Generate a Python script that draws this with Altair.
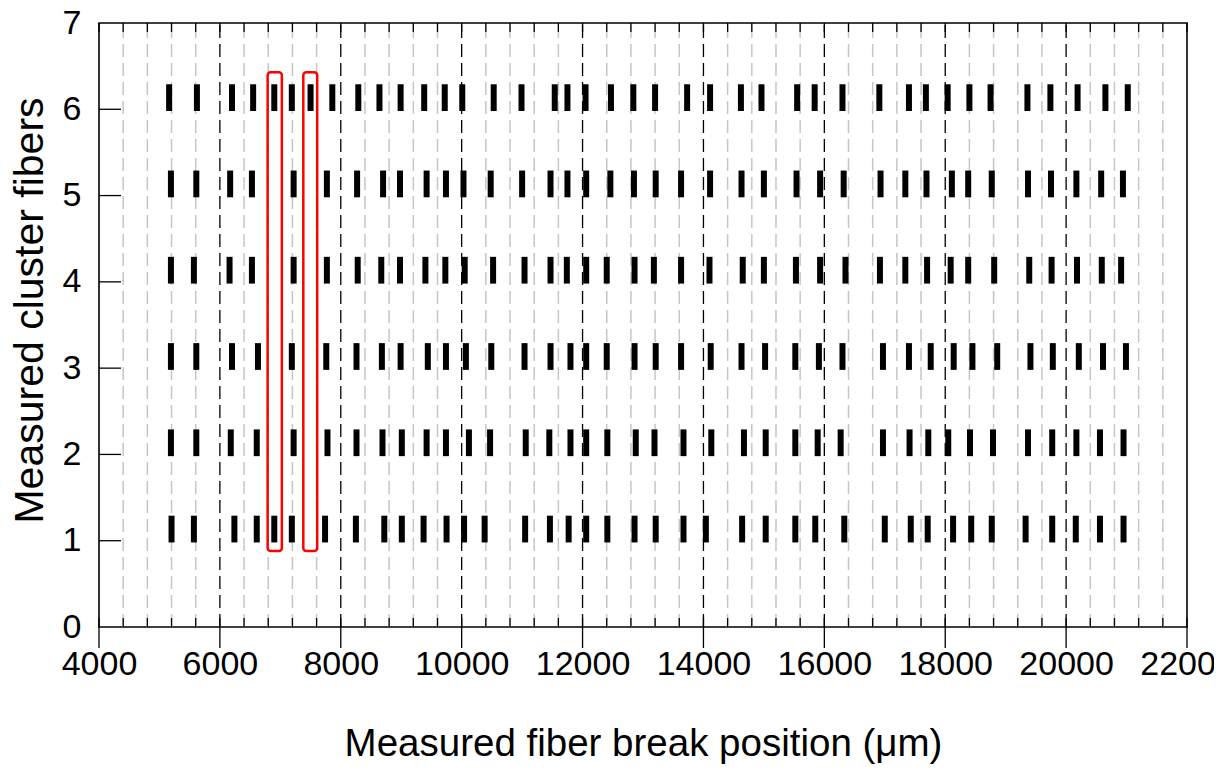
import altair as alt
import pandas as pd

# ---- data ----
row1 = [5200, 5570, 6240, 6610, 6900, 7190, 7740, 8250, 8720, 9010, 9370, 9750, 10040, 10380,
        11050, 11460, 11770, 12060, 12410, 12860, 13210, 13670, 14040, 14640, 15030, 15520, 15850,
        16330, 17000, 17430, 17710, 18130, 18430, 18770, 19330, 19770, 20160, 20560, 20950]
row2 = [5190, 5610, 6180, 6610, 7220, 7780, 8260, 8690, 9010, 9420, 9740, 10120, 10470, 11060,
        11450, 11800, 12060, 12410, 12880, 13190, 13670, 14130, 14670, 15030, 15520, 15890, 16270,
        16970, 17410, 17720, 18050, 18410, 18790, 19370, 19770, 20170, 20560, 20950]
row3 = [5190, 5610, 6200, 6630, 7190, 7760, 8260, 8680, 8990, 9440, 9740, 10070, 10490, 11040,
        11470, 11800, 12060, 12400, 12860, 13210, 13630, 14120, 14630, 15020, 15520, 15910, 16300,
        16970, 17400, 17760, 18140, 18450, 18860, 19410, 19780, 20210, 20610, 20990]
row4 = [5190, 5570, 6160, 6530, 7220, 7770, 8280, 8670, 8980, 9400, 9730, 10050, 10520, 11040,
        11470, 11740, 12060, 12400, 12860, 13180, 13630, 14100, 14650, 15000, 15530, 15930, 16350,
        16920, 17340, 17700, 18090, 18380, 18810, 19390, 19760, 20180, 20590, 20910]
row5 = [5190, 5610, 6170, 6530, 7220, 7770, 8270, 8700, 8980, 9420, 9740, 10030, 10480, 11000,
        11470, 11750, 12060, 12460, 12850, 13210, 13630, 14110, 14630, 15000, 15540, 15930, 16320,
        16930, 17340, 17690, 18110, 18380, 18770, 19370, 19750, 20170, 20580, 20940]
row6 = [5160, 5620, 6200, 6550, 6900, 7190, 7500, 7860, 8290, 8640, 8990, 9380, 9720, 10010,
        10530, 10990, 11540, 11750, 12050, 12470, 12840, 13200, 13730, 14110, 14620, 14960, 15550,
        15840, 16300, 16910, 17400, 17680, 18040, 18400, 18750, 19360, 19740, 20190, 20650, 21020]

row_ids = [1, 2, 3, 4, 5, 6]
row_values = [row1, row2, row3, row4, row5, row6]

# highlighted columns (red boxes)
box_x0 = [6790, 7380]
box_x1 = [7025, 7610]
box_y0 = [0.88, 0.88]
box_y1 = [6.43, 6.43]

x_tick_labels = list(range(4000, 22001, 2000))
y_tick_labels = [0, 1, 2, 3, 4, 5, 6, 7]
minor_step_positions = list(range(4000, 22001, 400))

# ---- tables ----
bars = pd.DataFrame(
    [{"pos": p, "row": r} for r, vals in zip(row_ids, row_values) for p in vals]
)
bars["y0"] = bars["row"] - 0.02
bars["y1"] = bars["row"] + 0.29

boxes = pd.DataFrame({"x0": box_x0, "x1": box_x1, "y0": box_y0, "y1": box_y1})
minor_grid = pd.DataFrame({"x": [v for v in minor_step_positions if v % 2000 != 0]})
major_grid = pd.DataFrame({"x": [v for v in x_tick_labels if v not in (4000, 22000)]})
all_ticks = pd.DataFrame({"x": minor_step_positions})
major_ticks = pd.DataFrame({"x": x_tick_labels})
y_ticks = pd.DataFrame({"y": [v for v in y_tick_labels if v not in (0, 7)]})

W, H = 1088, 604
FONT = "Liberation Sans"

xs = alt.Scale(domain=[4000, 22000], nice=False, zero=False)
ys = alt.Scale(domain=[0, 7], nice=False, zero=False)

x_axis = alt.Axis(
    values=x_tick_labels, format="d", ticks=False, domain=False, grid=False,
    labelFontSize=34, labelFont=FONT, labelColor="black", labelPadding=20,
    labelFlush=False, labelOverlap=False, labelBound=False,
    title="Measured fiber break position (μm)", titleFont=FONT, titleFontSize=38.5,
    titleFontWeight="normal", titleColor="black", titleY=98, titleBaseline="top",
)
y_axis = alt.Axis(
    values=y_tick_labels, format="d", ticks=False, domain=False, grid=False,
    labelFontSize=34, labelFont=FONT, labelColor="black", labelPadding=18,
    title="Measured cluster fibers", titleFont=FONT, titleFontSize=41,
    titleFontWeight="normal", titleColor="black", titleX=-48, titleY=287,
)

def X(field):
    return alt.X(field, scale=xs, axis=x_axis)

def Y(field):
    return alt.Y(field, scale=ys, axis=y_axis)

minor = alt.Chart(minor_grid).mark_rule(
    color="#c6c6c6", strokeWidth=1.5, strokeDash=[13, 6]
).encode(x=X("x:Q"), y=alt.value(H), y2=alt.value(0))

major = alt.Chart(major_grid).mark_rule(
    color="black", strokeWidth=1.3, strokeDash=[13, 6]
).encode(x=X("x:Q"), y=alt.value(H), y2=alt.value(0))

top_ticks = alt.Chart(all_ticks).mark_rule(color="black", strokeWidth=1.3).encode(
    x=X("x:Q"), y=alt.value(0), y2=alt.value(9)
)
bottom_ticks = alt.Chart(all_ticks).mark_rule(color="black", strokeWidth=1.3).encode(
    x=X("x:Q"), y=alt.value(H - 9), y2=alt.value(H)
)
bottom_major = alt.Chart(major_ticks).mark_rule(color="black", strokeWidth=1.3).encode(
    x=X("x:Q"), y=alt.value(H), y2=alt.value(H + 21)
)
left_ticks = alt.Chart(y_ticks).mark_rule(color="black", strokeWidth=1.3).encode(
    y=Y("y:Q"), x=alt.value(0), x2=alt.value(22)
)

bar_layer = alt.Chart(bars).mark_rule(color="black", strokeWidth=6, strokeCap="butt").encode(
    x=X("pos:Q"), y=Y("y0:Q"), y2="y1:Q",
)

box_layer = alt.Chart(boxes).mark_rect(
    fillOpacity=0, stroke="#ff0000", strokeWidth=2.5, cornerRadius=3
).encode(
    x=X("x0:Q"), x2="x1:Q", y=Y("y0:Q"), y2="y1:Q",
)

chart = alt.layer(
    minor, major, top_ticks, bottom_ticks, bottom_major, left_ticks, bar_layer, box_layer
).properties(
    width=W, height=H,
    autosize=alt.AutoSizeParams(type="none"),
    padding={"left": 91, "top": 15, "right": 27, "bottom": 139},
    background="white",
).configure_view(stroke="black", strokeWidth=1.6)

chart.save("out.html", embed_options={"renderer": "svg", "actions": False})
